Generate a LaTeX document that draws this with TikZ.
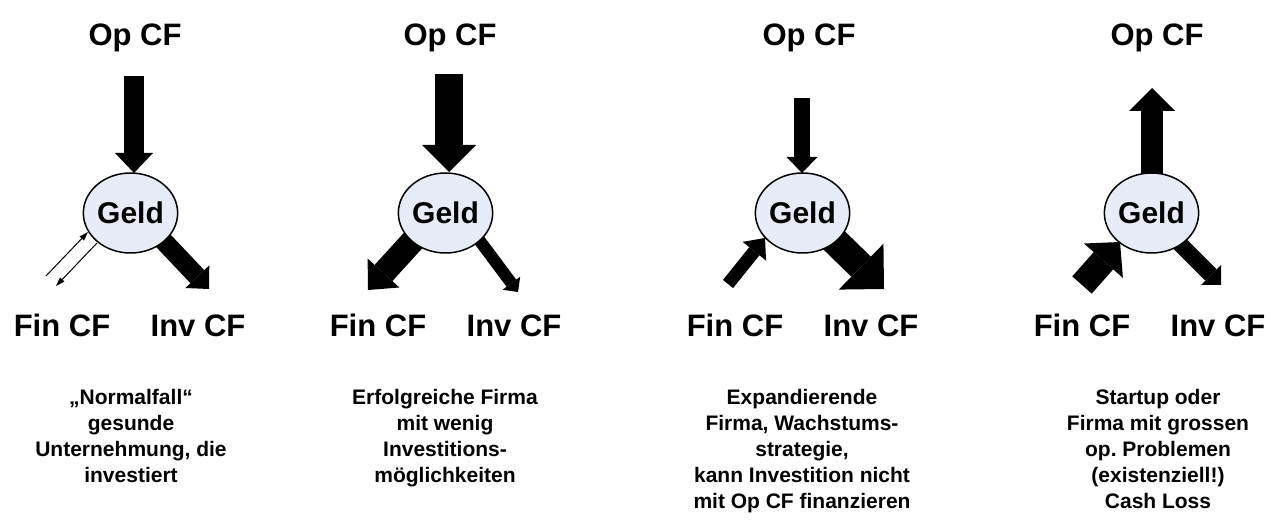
\documentclass[tikz,border=0pt]{standalone}
\usepackage{fontspec}
\setmainfont{Liberation Sans}
\usetikzlibrary{arrows.meta,shapes.geometric}
\pgfdeclarelayer{background}
\pgfsetlayers{background,main}
\definecolor{geldfill}{RGB}{232,236,248}
\frenchspacing
\tikzset{
  geld/.style={ellipse,draw=black,line width=1.5pt,fill=geldfill,minimum width=89pt,minimum height=80pt,inner sep=0pt,font=\fontsize{30}{36}\selectfont\bfseries},
  cflabel/.style={inner sep=0pt,anchor=base,font=\fontsize{31}{36}\selectfont\bfseries},
  desc/.style={inner sep=0pt,anchor=north,align=center,font=\fontsize{21}{26}\selectfont\bfseries},
  blk/.style n args={3}{line width=#1,line cap=butt,-{Triangle[width=#2,length=#3,line width=0pt]}},
  thinarrow/.style={line width=1pt,-{Triangle[width=6pt,length=9pt,line width=0pt]}}
}
\begin{document}
\begin{tikzpicture}[x=1pt,y=-1pt]
\begin{pgfonlayer}{background}
\fill[white] (0,0) rectangle (1276,526);
\end{pgfonlayer}
\useasboundingbox (0,0) rectangle (1276,526);

% ---------- Panel 1 ----------
\node[geld] (g1) at (130.5,213) {Geld};
\node[cflabel] (op1) at (135,46) {Op CF};
\node[cflabel] (fin1) at (62,336) {Fin CF};
\node[cflabel] (inv1) at (198,336) {Inv CF};
\node[desc] (d1) at (131,389) {„Normalfall“\\gesunde\\Unternehmung, die\\investiert};
\coordinate (a1s) at (134,76);  \coordinate (a1e) at (134,173);
\coordinate (b1s) at (147,223.5); \coordinate (b1e) at (209,289);
\coordinate (c1s) at (46,276);  \coordinate (c1e) at (88,232);
\coordinate (c2s) at (97,243);  \coordinate (c2e) at (56,286);
\draw[blk={20pt}{38pt}{20pt}] (a1s) -- (a1e);
\begin{pgfonlayer}{background}
\draw[blk={19pt}{33pt}{17pt}] (b1s) -- (b1e);
\end{pgfonlayer}
\draw[thinarrow] (c1s) -- (c1e);
\draw[thinarrow] (c2s) -- (c2e);

% ---------- Panel 2 ----------
\node[geld] (g2) at (445.5,213) {Geld};
\node[cflabel] (op2) at (450,46) {Op CF};
\node[cflabel] (fin2) at (378,336) {Fin CF};
\node[cflabel] (inv2) at (514,336) {Inv CF};
\node[desc] (d2) at (445,389) {Erfolgreiche Firma\\mit wenig\\Investitions-\\möglichkeiten};
\coordinate (a2s) at (449,74);  \coordinate (a2e) at (449,172);
\coordinate (b2s) at (435.5,216); \coordinate (b2e) at (368,290);
\coordinate (c2is) at (462,217); \coordinate (c2ie) at (518,292);
\draw[blk={28pt}{54pt}{27pt}] (a2s) -- (a2e);
\begin{pgfonlayer}{background}
\draw[blk={24pt}{43pt}{23pt}] (b2s) -- (b2e);
\draw[blk={12pt}{22pt}{11pt}] (c2is) -- (c2ie);
\end{pgfonlayer}

% ---------- Panel 3 ----------
\node[geld] (g3) at (802.5,213) {Geld};
\node[cflabel] (op3) at (809,46) {Op CF};
\node[cflabel] (fin3) at (735,336) {Fin CF};
\node[cflabel] (inv3) at (871,336) {Inv CF};
\node[desc] (d3) at (802,389) {Expandierende\\Firma, Wachstums-\\strategie,\\kann Investition nicht\\mit Op CF finanzieren};
\coordinate (a3s) at (802,98);  \coordinate (a3e) at (802,173);
\coordinate (b3s) at (728,284); \coordinate (b3e) at (765,238);
\coordinate (c3s) at (805,212); \coordinate (c3e) at (884,289);
\draw[blk={16pt}{31pt}{16pt}] (a3s) -- (a3e);
\draw[blk={13pt}{30pt}{17pt}] (b3s) -- (b3e);
\begin{pgfonlayer}{background}
\draw[blk={28pt}{64pt}{32pt}] (c3s) -- (c3e);
\end{pgfonlayer}

% ---------- Panel 4 ----------
\node[geld] (g4) at (1151.5,213) {Geld};
\node[cflabel] (op4) at (1157,46) {Op CF};
\node[cflabel] (fin4) at (1082,336) {Fin CF};
\node[cflabel] (inv4) at (1218,336) {Inv CF};
\node[desc] (d4) at (1158,389) {Startup oder\\Firma mit grossen\\op. Problemen\\(existenziell!)\\Cash Loss};
\coordinate (a4s) at (1152,200); \coordinate (a4e) at (1152,88);
\coordinate (b4s) at (1082,285); \coordinate (b4e) at (1120,242);
\coordinate (c4s) at (1157,221); \coordinate (c4e) at (1221,285);
\begin{pgfonlayer}{background}
\draw[blk={22pt}{46pt}{23pt}] (a4s) -- (a4e);
\draw[blk={16pt}{28pt}{14pt}] (c4s) -- (c4e);
\end{pgfonlayer}
\draw[blk={26pt}{52pt}{25pt}] (b4s) -- (b4e);
\end{tikzpicture}
\end{document}
